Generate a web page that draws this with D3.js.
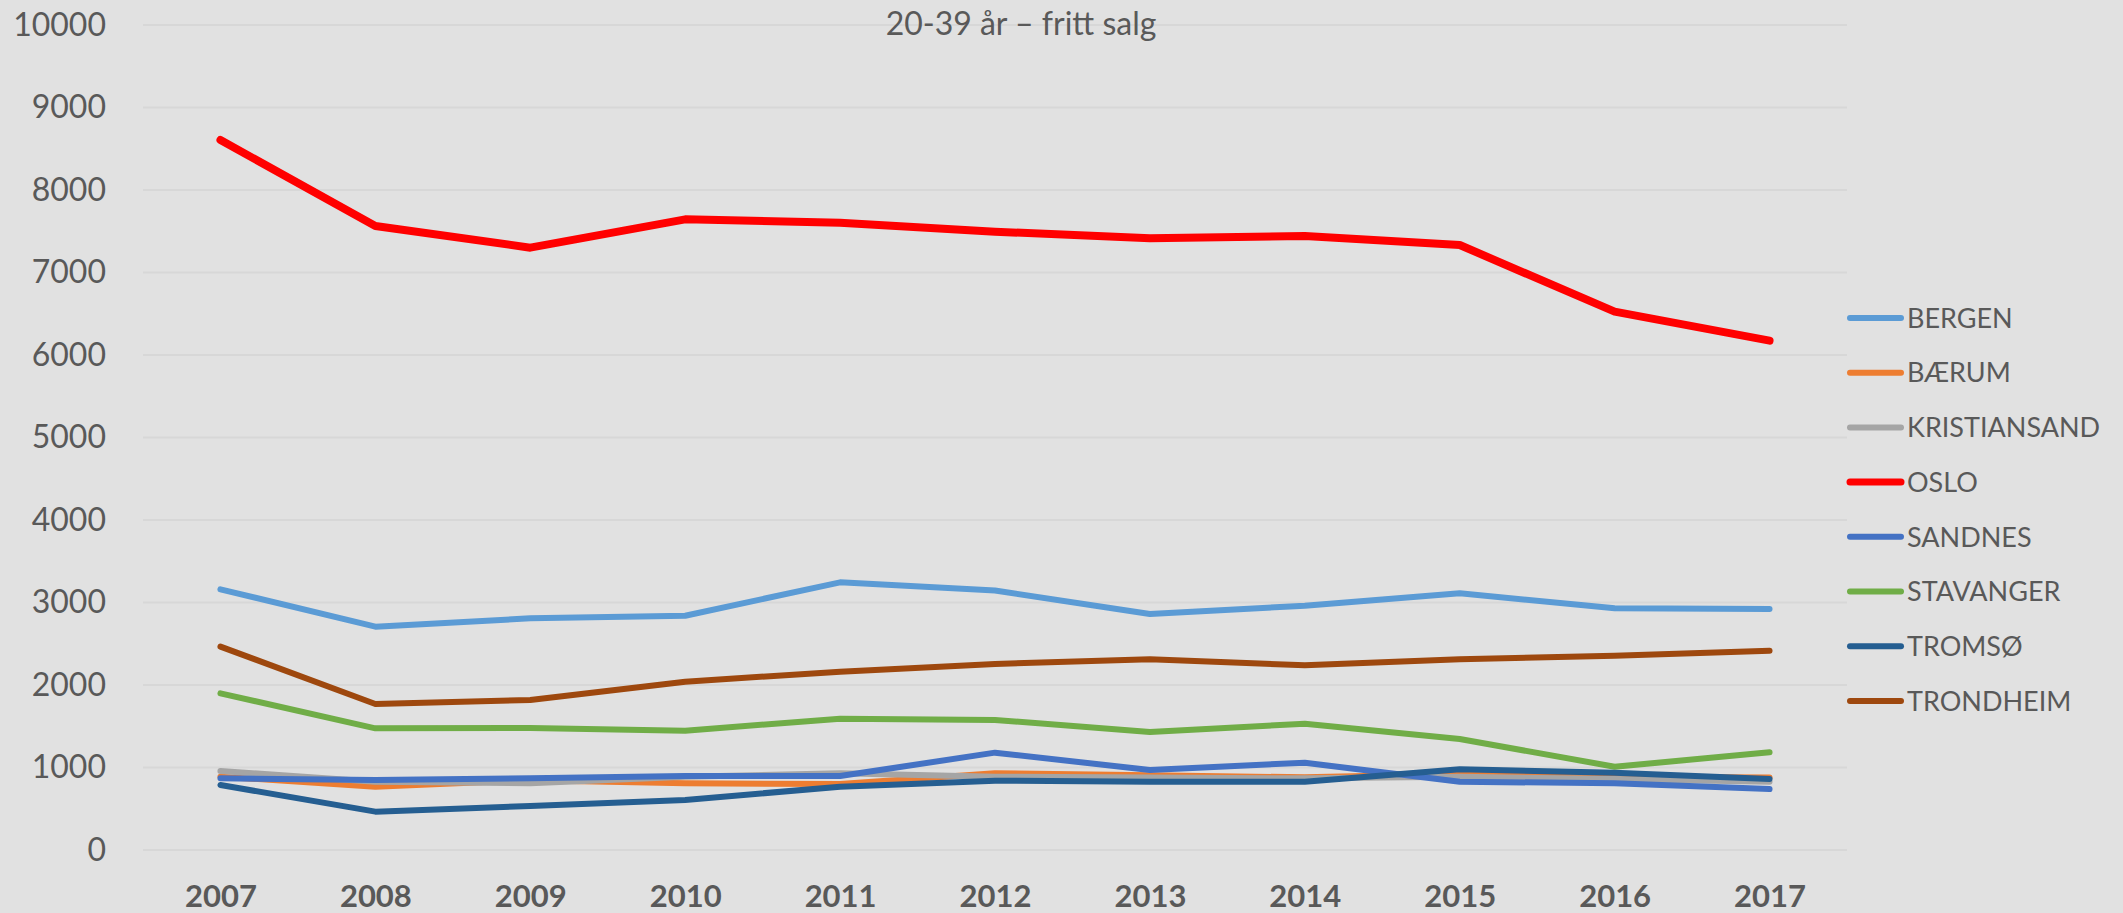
<!DOCTYPE html>
<html>
<head>
<meta charset="utf-8">
<script src="https://cdn.jsdelivr.net/npm/d3@7"></script>
<style>
  html, body { margin: 0; padding: 0; background: #e1e1e1; }
  svg { display: block; }
</style>
</head>
<body>
<script>
// 20-39 år – fritt salg, line chart

var years = ['2007', '2008', '2009', '2010', '2011', '2012', '2013', '2014', '2015', '2016', '2017'];
var yTicks = [0, 1000, 2000, 3000, 4000, 5000, 6000, 7000, 8000, 9000, 10000];

var cities = ['BERGEN', 'BÆRUM', 'KRISTIANSAND', 'OSLO', 'SANDNES', 'STAVANGER', 'TROMSØ', 'TRONDHEIM'];
var colors = ['#5b9bd5', '#ed7d31', '#a5a5a5', '#ff0000', '#4472c4', '#70ad47', '#255e91', '#9e480e'];

var bergen       = [3160, 2707, 2808, 2840, 3244, 3145, 2861, 2962, 3111, 2929, 2921];
var baerum       = [889, 768, 845, 808, 800, 930, 905, 881, 921, 889, 880];
var kristiansand = [958, 828, 808, 889, 929, 889, 878, 869, 889, 860, 828];
var oslo         = [8606, 7564, 7301, 7644, 7604, 7495, 7414, 7442, 7333, 6525, 6174];
var sandnes      = [869, 848, 869, 897, 897, 1180, 970, 1058, 828, 808, 739];
var stavanger    = [1899, 1475, 1480, 1446, 1592, 1576, 1430, 1531, 1345, 1010, 1184];
var tromso       = [788, 465, 533, 606, 768, 840, 828, 828, 978, 937, 861];
var trondheim    = [2465, 1770, 1818, 2040, 2162, 2255, 2311, 2238, 2311, 2356, 2416];

var seriesValues = [bergen, baerum, kristiansand, oslo, sandnes, stavanger, tromso, trondheim];

var width = 2123;
var height = 913;

var svg = d3.select('body').append('svg')
    .attr('width', width)
    .attr('height', height);

svg.append('rect')
    .attr('width', width)
    .attr('height', height)
    .attr('fill', '#e1e1e1');

var x = d3.scalePoint()
    .domain(years)
    .range([143, 1847])
    .padding(0.5);

var y = d3.scaleLinear()
    .domain([0, 10000])
    .range([850, 25]);

var textColor = '#595959';
var font = 'Lato, "Open Sans", sans-serif';

// gridlines
svg.append('g')
    .selectAll('line')
    .data(yTicks)
    .enter().append('line')
    .attr('x1', 143)
    .attr('x2', 1847)
    .attr('y1', function(d){ return y(d); })
    .attr('y2', function(d){ return y(d); })
    .attr('stroke', '#d7d7d7')
    .attr('stroke-width', 2);

// y axis labels
var yAxis = d3.axisLeft(y).tickValues(yTicks).tickFormat(d3.format('d')).tickSize(0).tickPadding(0);
var gy = svg.append('g')
    .attr('transform', 'translate(106,0)')
    .call(yAxis);
gy.select('.domain').remove();
gy.selectAll('text')
    .attr('fill', textColor)
    .style('font-family', font)
    .style('font-size', '32px');

// x axis labels
var xAxis = d3.axisBottom(x).tickSize(0).tickPadding(0);
var gx = svg.append('g')
    .attr('transform', 'translate(0,885)')
    .call(xAxis);
gx.select('.domain').remove();
gx.selectAll('text')
    .attr('dy', '0.72em')
    .attr('fill', textColor)
    .style('font-family', font)
    .style('font-weight', 'bold')
    .style('font-size', '31px');

// title
svg.append('text')
    .attr('x', 1021)
    .attr('y', 35)
    .attr('text-anchor', 'middle')
    .attr('fill', textColor)
    .style('font-family', font)
    .style('font-size', '32px')
    .text('20-39 år – fritt salg');

// lines
var line = d3.line()
    .x(function(d, i){ return x(years[i]); })
    .y(function(d){ return y(d); });

for (var s = 0; s < cities.length; s++) {
    svg.append('path')
        .datum(seriesValues[s])
        .attr('d', line)
        .attr('fill', 'none')
        .attr('stroke', colors[s])
        .attr('stroke-width', cities[s] === 'OSLO' ? 8 : 6)
        .attr('stroke-linecap', 'round')
        .attr('stroke-linejoin', 'round');
}

// legend
var legend = svg.append('g');
for (var k = 0; k < cities.length; k++) {
    var ly = 318 + k * 54.7;
    legend.append('line')
        .attr('x1', 1850)
        .attr('x2', 1901)
        .attr('y1', ly)
        .attr('y2', ly)
        .attr('stroke', colors[k])
        .attr('stroke-width', cities[k] === 'OSLO' ? 7 : 6)
        .attr('stroke-linecap', 'round');
    legend.append('text')
        .attr('x', 1907)
        .attr('y', ly)
        .attr('dy', '0.36em')
        .attr('fill', textColor)
        .style('font-family', font)
        .style('font-size', '27px')
        .text(cities[k]);
}
</script>
</body>
</html>
